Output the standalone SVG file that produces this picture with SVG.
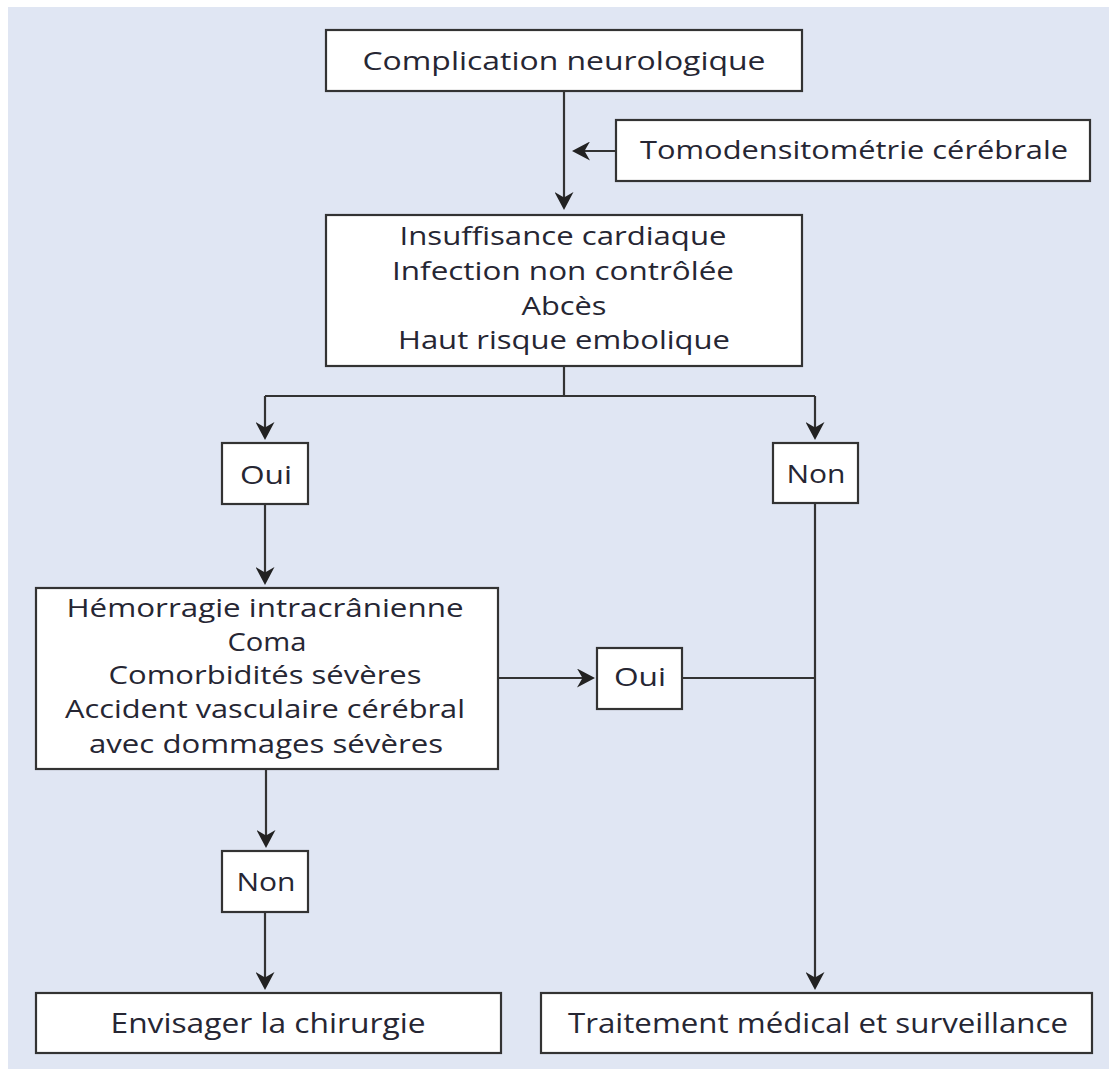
<svg xmlns="http://www.w3.org/2000/svg" width="1109" height="1069" viewBox="0 0 1109 1069">
<style>
.box{fill:#ffffff;stroke:#333333;stroke-width:2.2}
.t{font-family:"Open Sans","Noto Sans",sans-serif;font-size:26px;fill:#262633;text-anchor:middle}
.c{font-family:"Open Sans","Noto Sans",sans-serif;font-size:28px;fill:#262633;text-anchor:middle}
.ln{fill:none;stroke:#333333;stroke-width:2.2}
</style>
<defs>
<marker id="ah" markerUnits="userSpaceOnUse" viewBox="0 0 18 19" refX="10" refY="9.5" markerWidth="18" markerHeight="19" orient="auto">
<path d="M0,0 L18,9.5 L0,19 L5.5,9.5 Z" fill="#222222"/>
</marker>
</defs>
<rect x="8" y="7" width="1101" height="1062" fill="#E0E6F3"/>
<g id="connectors">
<path class="ln" d="M564,91 V202" marker-end="url(#ah)"/>
<path class="ln" d="M616,151 H580" marker-end="url(#ah)"/>
<path class="ln" d="M564,366 V396 M265,396 H815"/>
<path class="ln" d="M265,396 V432" marker-end="url(#ah)"/>
<path class="ln" d="M815,396 V432" marker-end="url(#ah)"/>
<path class="ln" d="M265,504 V577" marker-end="url(#ah)"/>
<path class="ln" d="M498,678 H587" marker-end="url(#ah)"/>
<path class="ln" d="M682,678 H815"/>
<path class="ln" d="M815,503 V982" marker-end="url(#ah)"/>
<path class="ln" d="M266,769 V840" marker-end="url(#ah)"/>
<path class="ln" d="M265,912 V982" marker-end="url(#ah)"/>
</g>
<g id="n1"><rect class="box" x="326" y="30" width="476" height="61"/><text class="t" x="564" y="70" textLength="403" lengthAdjust="spacingAndGlyphs">Complication neurologique</text></g>
<g id="n2"><rect class="box" x="616" y="120" width="474" height="61"/><text class="t" x="854" y="159" textLength="428" lengthAdjust="spacingAndGlyphs">Tomodensitométrie cérébrale</text></g>
<g id="n3"><rect class="box" x="326" y="215" width="476" height="151"/>
<text class="t" x="563" y="245" textLength="327" lengthAdjust="spacingAndGlyphs">Insuffisance cardiaque</text>
<text class="t" x="563" y="280" textLength="342" lengthAdjust="spacingAndGlyphs">Infection non contrôlée</text>
<text class="t" x="564" y="315" textLength="85" lengthAdjust="spacingAndGlyphs">Abcès</text>
<text class="t" x="564" y="349" textLength="332" lengthAdjust="spacingAndGlyphs">Haut risque embolique</text></g>
<g id="n4"><rect class="box" x="222" y="443" width="86" height="61"/><text class="t" x="266" y="484" textLength="52" lengthAdjust="spacingAndGlyphs">Oui</text></g>
<g id="n5"><rect class="box" x="773" y="443" width="85" height="60"/><text class="t" x="816" y="483" textLength="59" lengthAdjust="spacingAndGlyphs">Non</text></g>
<g id="n6"><rect class="box" x="36" y="588" width="462" height="181"/>
<text class="t" x="265" y="617" textLength="397" lengthAdjust="spacingAndGlyphs">Hémorragie intracrânienne</text>
<text class="t" x="267" y="651" textLength="79" lengthAdjust="spacingAndGlyphs">Coma</text>
<text class="t" x="265" y="684" textLength="313" lengthAdjust="spacingAndGlyphs">Comorbidités sévères</text>
<text class="t" x="265" y="718" textLength="400" lengthAdjust="spacingAndGlyphs">Accident vasculaire cérébral</text>
<text class="t" x="266" y="753" textLength="354" lengthAdjust="spacingAndGlyphs">avec dommages sévères</text></g>
<g id="n7"><rect class="box" x="597" y="648" width="85" height="61"/><text class="t" x="640" y="686" textLength="52" lengthAdjust="spacingAndGlyphs">Oui</text></g>
<g id="n8"><rect class="box" x="222" y="851" width="86" height="61"/><text class="t" x="266" y="891" textLength="59" lengthAdjust="spacingAndGlyphs">Non</text></g>
<g id="n9"><rect class="box" x="36" y="993" width="465" height="60"/><text class="c" x="268" y="1033" textLength="315" lengthAdjust="spacingAndGlyphs">Envisager la chirurgie</text></g>
<g id="n10"><rect class="box" x="541" y="993" width="551" height="60"/><text class="c" x="818" y="1033" textLength="500" lengthAdjust="spacingAndGlyphs">Traitement médical et surveillance</text></g>
</svg>
